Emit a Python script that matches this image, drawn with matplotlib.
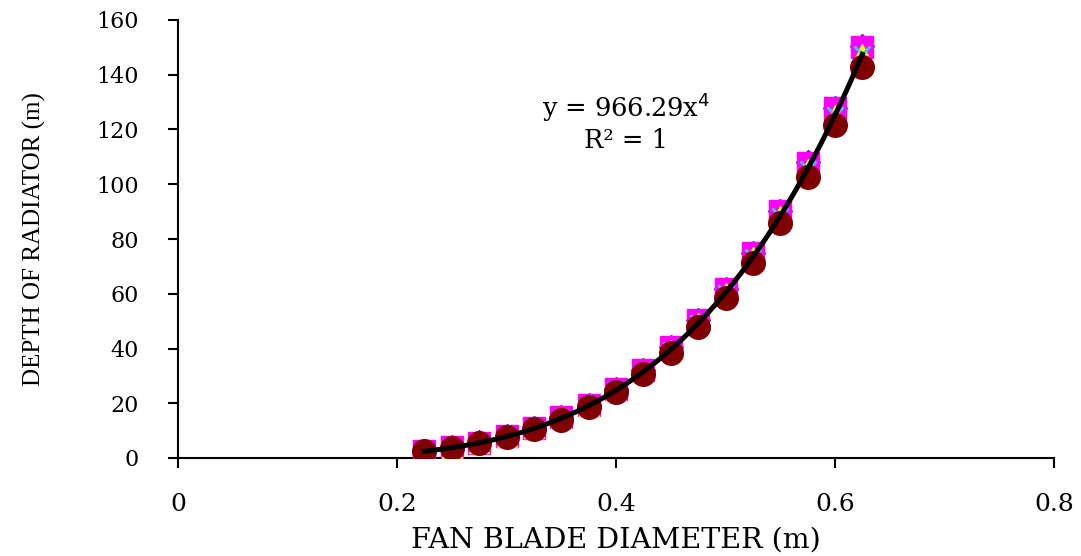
import matplotlib
matplotlib.use("Agg")
import matplotlib.pyplot as plt
import numpy as np

# Data
diameter = [0.225, 0.25, 0.275, 0.30, 0.325, 0.35, 0.375, 0.40, 0.425,
            0.45, 0.475, 0.50, 0.525, 0.55, 0.575, 0.60, 0.625]
depth_diamond = [2.6, 3.9, 5.7, 8.0, 11.0, 14.8, 19.5, 25.3, 32.2,
                 40.5, 50.3, 61.7, 75.0, 90.3, 108.0, 128.0, 150.5]
depth_square = [2.55, 3.85, 5.65, 8.0, 11.0, 14.8, 19.5, 25.3, 32.2,
                40.5, 50.3, 61.7, 75.0, 90.3, 107.9, 127.9, 150.0]
depth_triangle = [2.5, 3.8, 5.5, 7.8, 10.8, 14.5, 19.1, 24.7, 31.5,
                  39.6, 49.2, 60.4, 73.4, 88.4, 105.6, 125.2, 147.5]
depth_cross = [2.5, 3.8, 5.5, 7.8, 10.8, 14.5, 19.1, 24.7, 31.5,
               39.6, 49.2, 60.4, 73.4, 88.4, 105.6, 125.2, 147.4]
depth_circle = [2.4, 3.65, 5.35, 7.6, 10.45, 14.05, 18.5, 24.0, 30.6,
                38.4, 47.7, 58.6, 71.2, 85.8, 102.5, 121.5, 143.0]
fit_coef = 966.29
fit_power = 4

xticks = [0, 0.2, 0.4, 0.6, 0.8]
xticklabels = ["0", "0.2", "0.4", "0.6", "0.8"]
yticks = [0, 20, 40, 60, 80, 100, 120, 140, 160]

fig = plt.figure(figsize=(10.81, 5.56), dpi=100)
ax = fig.add_axes([178/1081, (556-458)/556, 876/1081, 438/556])

ax.plot(diameter, depth_diamond, linestyle="none", marker="D", ms=12,
        color="#1f3fbf", zorder=3)
ax.plot(diameter, depth_square, linestyle="none", marker="s", ms=16,
        color="#ff00ff", zorder=4)
ax.plot(diameter, depth_triangle, linestyle="none", marker="^", ms=15,
        color="#ffff00", zorder=5)
ax.plot(diameter, depth_cross, linestyle="none", marker="x", ms=12, mew=2,
        color="#33ccee", zorder=6)
ax.plot(diameter, depth_circle, linestyle="none", marker="o", ms=17,
        color="#800000", zorder=7)

xf = np.linspace(diameter[0], diameter[-1], 200)
ax.plot(xf, fit_coef * xf ** fit_power, color="black", lw=3.6, zorder=8)

ax.set_xlim(0, 0.8)
ax.set_ylim(0, 160)
ax.set_xticks(xticks)
ax.set_xticklabels(xticklabels, fontfamily="DejaVu Serif", fontsize=18)
ax.set_yticks(yticks)
ax.set_yticklabels([str(v) for v in yticks], fontfamily="DejaVu Serif",
                   fontsize=16)
for s in ["top", "right"]:
    ax.spines[s].set_visible(False)
for s in ["left", "bottom"]:
    ax.spines[s].set_linewidth(1.5)
ax.tick_params(axis="both", direction="out", length=7, width=1.5)
ax.tick_params(axis="y", pad=21)
ax.tick_params(axis="x", pad=18)

ax.set_xlabel("FAN BLADE DIAMETER (m)", fontfamily="DejaVu Serif",
              fontsize=20.5, labelpad=8)
ax.set_ylabel("DEPTH OF RADIATOR (m)", fontfamily="Liberation Serif",
              fontsize=18, labelpad=36)

ax.text(0.511, 0.767, "y = 966.29x$^{4}$\nR² = 1", transform=ax.transAxes,
        ha="center", va="center", fontfamily="DejaVu Serif", fontsize=18.5,
        linespacing=1.2)

fig.savefig("out.png", dpi=100)
